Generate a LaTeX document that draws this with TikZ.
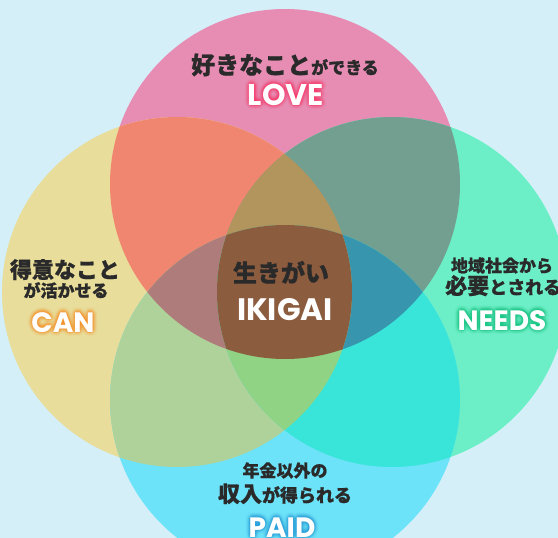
\documentclass[tikz,border=0pt]{standalone}
\usepackage{fontspec}
\newfontfamily\jp{Noto Sans CJK JP}[BoldFeatures={FakeBold=0.8}]
\newfontfamily\lat{Poppins}
\usetikzlibrary{calc}
\definecolor{bgc}{HTML}{D5EFF9}
\definecolor{cT}{HTML}{E78DB4}
\definecolor{cL}{HTML}{E8DD9A}
\definecolor{cR}{HTML}{6CEFC6}
\definecolor{cB}{HTML}{6DE3F9}
\definecolor{cTL}{HTML}{F0866F}
\definecolor{cTR}{HTML}{739F91}
\definecolor{cLB}{HTML}{AFD19A}
\definecolor{cRB}{HTML}{38E5D8}
\definecolor{cTLR}{HTML}{B2955D}
\definecolor{cTLB}{HTML}{AD7C7B}
\definecolor{cTRB}{HTML}{3795AE}
\definecolor{cLRB}{HTML}{91D384}
\definecolor{cAll}{HTML}{8C5C3F}
\definecolor{ink}{HTML}{2A2A2A}
\definecolor{gLove}{HTML}{FF3D6E}
\definecolor{gCan}{HTML}{FF9428}
\definecolor{gNeeds}{HTML}{18C784}
\definecolor{gPaid}{HTML}{2A9FDC}
\newcommand\jpsize[1]{\fontsize{#1}{#1}\selectfont}
\newcommand\glowlabel[5]{%
  \foreach \a in {0,30,...,330}{%
    \node[anchor=base, font=#4, text=#3, opacity=0.10, name=#1-ga\a] at ($(#2)+(\a:1.2pt)$) {#5};
    \node[anchor=base, font=#4, text=#3, opacity=0.08, name=#1-gb\a] at ($(#2)+(\a+15:2.4pt)$) {#5};
    \node[anchor=base, font=#4, text=#3, opacity=0.05, name=#1-gc\a] at ($(#2)+(\a:3.6pt)$) {#5};
    \node[anchor=base, font=#4, text=#3, opacity=0.03, name=#1-gd\a] at ($(#2)+(\a+15:4.8pt)$) {#5};
  }%
  \node[anchor=base, font=#4, text=white] (#1) at (#2) {#5};%
}
\tikzset{
  jptext/.style={anchor=base, text=ink, font=\jp\bfseries, inner sep=0pt},
}
\begin{document}
\begin{tikzpicture}[x=1pt,y=-1pt]
\useasboundingbox (0,0) rectangle (558,538);
\fill[bgc] (0,0) rectangle (558,538);
\coordinate (oT) at (285,184);
\coordinate (oL) at (177,292);
\coordinate (oR) at (392,292);
\coordinate (oB) at (285,400);
\def\r{175pt}
% single circles
\fill[cT] (oT) circle[radius=\r];
\fill[cL] (oL) circle[radius=\r];
\fill[cR] (oR) circle[radius=\r];
\fill[cB] (oB) circle[radius=\r];
% pairs
\begin{scope}\clip (oT) circle[radius=\r]; \fill[cTL] (oL) circle[radius=\r];\end{scope}
\begin{scope}\clip (oT) circle[radius=\r]; \fill[cTR] (oR) circle[radius=\r];\end{scope}
\begin{scope}\clip (oL) circle[radius=\r]; \fill[cLB] (oB) circle[radius=\r];\end{scope}
\begin{scope}\clip (oR) circle[radius=\r]; \fill[cRB] (oB) circle[radius=\r];\end{scope}
% triples
\begin{scope}\clip (oT) circle[radius=\r]; \clip (oL) circle[radius=\r]; \fill[cTLR] (oR) circle[radius=\r];\end{scope}
\begin{scope}\clip (oT) circle[radius=\r]; \clip (oL) circle[radius=\r]; \fill[cTLB] (oB) circle[radius=\r];\end{scope}
\begin{scope}\clip (oT) circle[radius=\r]; \clip (oR) circle[radius=\r]; \fill[cTRB] (oB) circle[radius=\r];\end{scope}
\begin{scope}\clip (oL) circle[radius=\r]; \clip (oR) circle[radius=\r]; \fill[cLRB] (oB) circle[radius=\r];\end{scope}
% all four
\begin{scope}\clip (oT) circle[radius=\r]; \clip (oL) circle[radius=\r]; \clip (oR) circle[radius=\r]; \fill[cAll] (oB) circle[radius=\r];\end{scope}

% LOVE
\node[jptext] (loveJ) at (285,74) {\jpsize{24}好きなこと\jpsize{17}ができる};
\coordinate (pLove) at (286,105);
\glowlabel{love}{pLove}{gLove}{\lat\bfseries\jpsize{30}}{LOVE}
% CAN
\node[jptext] (canJ1) at (65,278) {\jpsize{22}得意なこと};
\node[jptext] (canJ2) at (66,297) {\jpsize{17}が活かせる};
\coordinate (pCan) at (63,332);
\glowlabel{can}{pCan}{gCan}{\lat\bfseries\jpsize{28}}{CAN}
% NEEDS
\node[jptext] (needsJ1) at (502,272) {\jpsize{17}地域社会から};
\node[jptext, anchor=base west] (needsJ2) at (445,294) {\jpsize{22}必要\jpsize{18}とされる};
\coordinate (pNeeds) at (502,330);
\glowlabel{needs}{pNeeds}{gNeeds}{\lat\bfseries\jpsize{28}}{NEEDS}
% PAID
\node[jptext] (paidJ1) at (285,477) {\jpsize{17}年金以外の};
\node[jptext] (paidJ2) at (285,502) {\jpsize{22}収入\jpsize{18}が得られる};
\coordinate (pPaid) at (282,537);
\glowlabel{paid}{pPaid}{gPaid}{\lat\bfseries\jpsize{28}}{PAID}
% center
\node[jptext] (ikiJ) at (281,282) {\jpsize{24}生きがい};
\node[anchor=base, text=white, font=\lat\bfseries\jpsize{31}, inner sep=0pt] (iki) at (285,320) {IKIGAI};
\end{tikzpicture}
\end{document}
